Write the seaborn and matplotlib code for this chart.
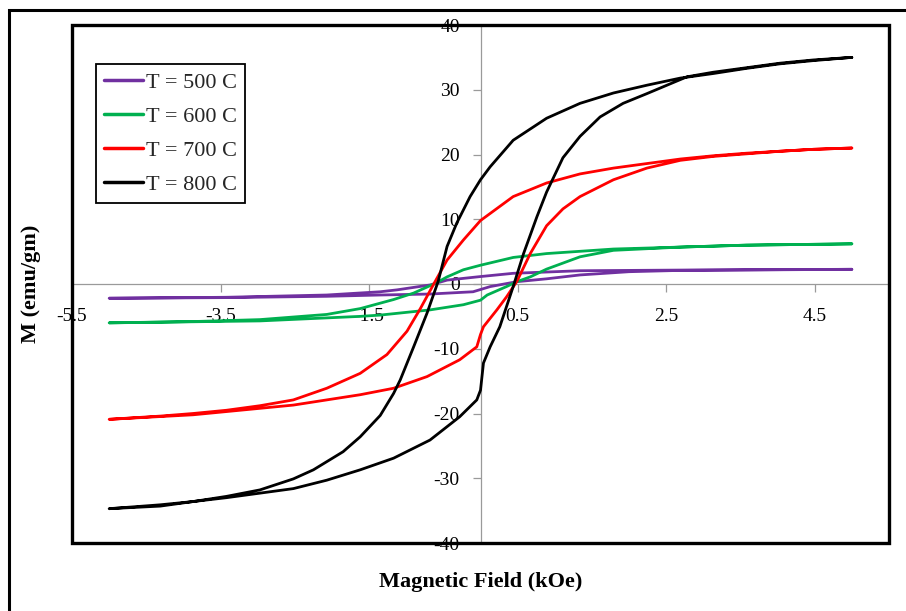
import matplotlib
matplotlib.use("Agg")
import matplotlib.pyplot as plt
import seaborn as sns
import pandas as pd
from matplotlib.patches import Rectangle

# ---------------- data ----------------
series_labels = ["T = 500 C", "T = 600 C", "T = 700 C", "T = 800 C"]
series_colors = ["#7030A0", "#00B050", "#FF0000", "#000000"]

x_ticks = [-5.5, -3.5, -1.5, 0.5, 2.5, 4.5]
x_tick_labels = ["-5.5", "-3.5", "-1.5", "0.5", "2.5", "4.5"]
y_ticks = [-40, -30, -20, -10, 0, 10, 20, 30, 40]
y_tick_labels = ["-40", "-30", "-20", "-10", "0", "10", "20", "30", "40"]

# T = 500 C
h500_down = [5.0, 2.69, 1.34, 0.44, 0.0, -0.45, -0.68, -1.12, -1.35, -2.07, -3.42, -5.0]
m500_down = [2.27, 2.15, 2.05, 1.65, 1.15, 0.6, -0.15, -0.9, -1.2, -1.7, -2.05, -2.2]
h500_up = [-5.0, -3.42, -2.07, -1.35, -0.68, -0.1, 0.13, 0.49, 0.89, 1.34, 2.0, 2.69, 5.0]
m500_up = [-2.2, -2.1, -1.9, -1.7, -1.55, -1.2, -0.4, 0.36, 0.8, 1.4, 1.9, 2.1, 2.27]

# T = 600 C
h600_down = [5.0, 3.58, 2.69, 1.79, 0.89, 0.44, 0.0, -0.23, -0.45, -0.59, -0.90, -1.17,
             -1.62, -2.07, -2.97, -3.87, -5.0]
m600_down = [6.2, 6.0, 5.7, 5.4, 4.7, 4.1, 2.9, 2.2, 1.1, 0.2, -1.4, -2.4,
             -3.8, -4.7, -5.5, -5.8, -6.0]
h600_up = [-5.0, -2.97, -1.62, -1.35, -0.68, -0.23, 0.0, 0.09, 0.35, 0.49, 0.67, 0.89,
           1.34, 1.79, 2.69, 3.58, 5.0]
m600_up = [-6.0, -5.7, -5.0, -4.8, -4.0, -3.2, -2.5, -1.7, -0.4, 0.36, 1.1, 2.3,
           4.2, 5.2, 5.7, 6.0, 6.2]

# T = 700 C
h700_down = [5.0, 4.48, 4.03, 3.58, 3.13, 2.69, 2.24, 1.79, 1.34, 0.89, 0.44, 0.0, -0.23,
             -0.45, -0.62, -0.81, -0.99, -1.26, -1.62, -2.07, -2.52, -2.97, -3.42, -3.87,
             -4.31, -5.0]
m700_down = [21.0, 20.8, 20.5, 20.2, 19.8, 19.3, 18.6, 17.9, 17.0, 15.6, 13.5, 9.8, 6.8,
             3.7, 0.2, -3.8, -7.3, -10.9, -13.8, -16.1, -17.9, -18.8, -19.5, -20.0,
             -20.4, -20.9]
h700_up = [-5.0, -3.87, -3.42, -2.97, -2.52, -2.07, -1.62, -1.17, -0.72, -0.28, -0.05, 0.0,
           0.04, 0.22, 0.35, 0.49, 0.67, 0.89, 1.11, 1.34, 1.79, 2.24, 2.69, 3.13, 3.58,
           4.03, 4.48, 5.0]
m700_up = [-20.9, -20.2, -19.7, -19.2, -18.7, -17.9, -17.1, -16.1, -14.3, -11.7, -9.7, -7.8,
           -6.6, -4.0, -2.0, 0.4, 4.7, 9.0, 11.6, 13.5, 16.1, 17.9, 19.1, 19.7, 20.1,
           20.5, 20.8, 21.0]

# T = 800 C
h800_down = [5.0, 4.48, 4.03, 3.58, 3.13, 2.69, 2.24, 1.79, 1.34, 0.89, 0.44, 0.13, 0.0,
             -0.14, -0.32, -0.45, -0.57, -0.72, -0.90, -1.08, -1.17, -1.35, -1.62, -1.85,
             -2.25, -2.52, -2.97, -3.42, -3.87, -4.31, -5.0]
m800_down = [35.0, 34.5, 34.0, 33.3, 32.5, 31.8, 30.7, 29.5, 27.9, 25.6, 22.2, 18.1, 16.1,
             13.5, 9.4, 5.8, 0.4, -4.5, -9.7, -14.8, -16.9, -20.3, -23.6, -25.9,
             -28.7, -30.1, -31.8, -32.8, -33.6, -34.1, -34.7]
h800_up = [-5.0, -4.31, -3.87, -3.42, -2.97, -2.52, -2.07, -1.62, -1.17, -0.68, -0.28, -0.05,
           0.0, 0.04, 0.13, 0.26, 0.44, 0.58, 0.76, 0.89, 1.11, 1.34, 1.61, 1.92, 2.24,
           2.51, 2.78, 3.13, 3.58, 4.03, 4.48, 5.0]
m800_up = [-34.7, -34.3, -33.6, -33.0, -32.3, -31.6, -30.3, -28.7, -26.9, -24.1, -20.5, -17.9,
           -16.4, -12.2, -9.7, -6.6, -0.4, 4.7, 10.4, 14.2, 19.5, 22.8, 25.8, 27.9, 29.4,
           30.7, 32.0, 32.7, 33.4, 34.1, 34.6, 35.0]

# ---------------- build table ----------------
loops = [
    (series_labels[0], h500_down + h500_up, m500_down + m500_up),
    (series_labels[1], h600_down + h600_up, m600_down + m600_up),
    (series_labels[2], h700_down + h700_up, m700_down + m700_up),
    (series_labels[3], h800_down + h800_up, m800_down + m800_up),
]
rows = []
for lab, hs, ms in loops:
    for i, (h, m) in enumerate(zip(hs, ms)):
        rows.append({"series": lab, "H": h, "M": m, "order": i})
df = pd.DataFrame(rows)

# ---------------- style ----------------
sns.set_theme(style="white")
plt.rcParams["font.family"] = ["Liberation Serif", "DejaVu Serif"]

W, H = 906, 611
fig = plt.figure(figsize=(W / 100, H / 100), dpi=100)
ax_l, ax_r, ax_t, ax_b = 72, 889, 25, 543
ax = fig.add_axes([ax_l / W, (H - ax_b) / H, (ax_r - ax_l) / W, (ax_b - ax_t) / H])

sns.lineplot(data=df, x="H", y="M", hue="series", hue_order=series_labels,
             palette=dict(zip(series_labels, series_colors)), sort=False,
             estimator=None, linewidth=2.0, ax=ax)

ax.set_xlim(-5.5, 5.5)
ax.set_ylim(-40, 40)

# Excel-like axes crossing at zero
for s in ["top", "right"]:
    ax.spines[s].set_visible(False)
ax.spines["left"].set_position(("data", 0))
ax.spines["bottom"].set_position(("data", 0))
for s in ["left", "bottom"]:
    ax.spines[s].set_color("#9a9a9a")
    ax.spines[s].set_linewidth(0.9)
    ax.spines[s].set_zorder(0.5)

ax.set_xticks(x_ticks)
ax.set_xticklabels(x_tick_labels)
ax.set_yticks(y_ticks)
ax.set_yticklabels(y_tick_labels)
ax.tick_params(axis="both", which="major", bottom=True, left=True, direction="out",
               length=6, width=0.9, color="#9a9a9a", labelsize=14, labelcolor="black")
ax.tick_params(axis="x", pad=11)
ax.tick_params(axis="y", pad=9)
ax.grid(False)

# plot-area border
ax.add_patch(Rectangle((0, 0), 1, 1, transform=ax.transAxes, fill=False, lw=2.4,
                       ec="black", clip_on=False, zorder=6))

# axis titles
ax.set_xlabel("Magnetic Field (kOe)", fontsize=16, fontweight="bold", color="black")
ax.xaxis.set_label_coords(0.5, -(582 - ax_b) / (ax_b - ax_t))
ax.xaxis.label.set_va("center")
ax.set_ylabel("M (emu/gm)", fontsize=16, fontweight="bold", color="black")
ax.yaxis.set_label_coords((31 - ax_l) / (ax_r - ax_l), 0.5)
ax.yaxis.label.set_va("center")

# legend
handles, labels = ax.get_legend_handles_labels()
leg = ax.legend(handles, labels, loc="upper left",
                bbox_to_anchor=((96 - ax_l) / (ax_r - ax_l), (ax_b - 64) / (ax_b - ax_t)),
                borderaxespad=0, frameon=True, fancybox=False, framealpha=1,
                edgecolor="black", fontsize=16, handlelength=1.75, handletextpad=0.12,
                labelspacing=0.6, borderpad=0.38)
leg.get_frame().set_linewidth(1.3)
for ln in leg.get_lines():
    ln.set_linewidth(2.5)
leg.set_zorder(7)

# outer chart frame (top and left edges visible)
fig.add_artist(Rectangle((9 / W, -0.2), 1.5, (H - 9.5) / H + 0.2, transform=fig.transFigure,
                         fill=False, lw=2.2, ec="black"))

fig.savefig("out.png", dpi=100)
